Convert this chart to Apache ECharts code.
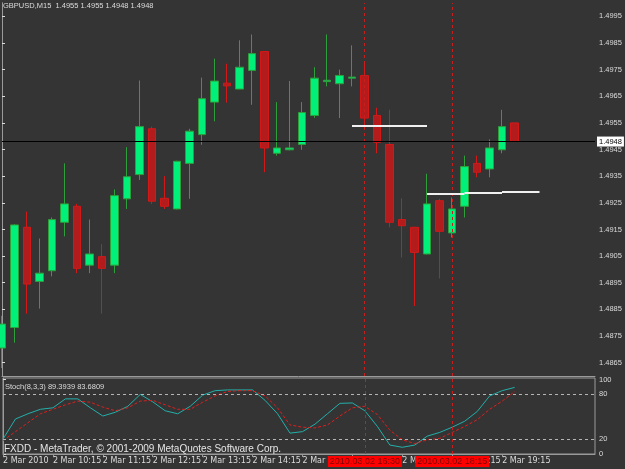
<!DOCTYPE html>
<html lang="en">
<head>
	<meta charset="UTF-8">
	<title>GBPUSD M15</title>
	<script src="https://cdn.jsdelivr.net/npm/echarts@6/dist/echarts.min.js"></script>
	<style>
		body { margin: 0; background: #343434; }
		#main { width: 625px; height: 469px; }
	</style>
</head>
<body>
	<div id="main"></div>
	<script type="text/javascript">
	// GBPUSD M15, 2 Mar 2010, bars from 09:15 to 19:30
	var opens  = [1.48705, 1.48782, 1.49158, 1.48955, 1.48995, 1.49177, 1.49237, 1.49016, 1.49048, 1.49016, 1.49265, 1.49356, 1.49528, 1.49267, 1.49227, 1.49398, 1.49506, 1.49628, 1.49699, 1.49677, 1.49747, 1.49818, 1.49436, 1.49449, 1.49469, 1.49578, 1.49705, 1.49697, 1.49718, 1.49728, 1.49578, 1.49469, 1.49187, 1.49158, 1.49058, 1.49258, 1.49137, 1.49237, 1.49398, 1.49377, 1.49449, 1.4955];
	var closes = [1.48795, 1.49167, 1.48945, 1.48986, 1.49187, 1.49246, 1.49004, 1.49058, 1.49004, 1.49277, 1.49348, 1.49536, 1.49256, 1.49237, 1.49406, 1.49519, 1.49641, 1.49707, 1.49689, 1.49759, 1.49810, 1.49456, 1.49456, 1.49456, 1.49589, 1.49718, 1.49710, 1.49728, 1.49722, 1.49568, 1.49477, 1.49177, 1.49164, 1.49064, 1.49246, 1.49143, 1.49227, 1.49386, 1.49365, 1.49456, 1.49536, 1.4948];
	var lows   = [1.48630, 1.48725, 1.48834, 1.48853, 1.48974, 1.49124, 1.48986, 1.48986, 1.48834, 1.48986, 1.49227, 1.49336, 1.49246, 1.49227, 1.49225, 1.49265, 1.49468, 1.49556, 1.49626, 1.49677, 1.49618, 1.49365, 1.49427, 1.49447, 1.49449, 1.49569, 1.49687, 1.49568, 1.49687, 1.49534, 1.49436, 1.49158, 1.49045, 1.48863, 1.49056, 1.48966, 1.49120, 1.49195, 1.49346, 1.49346, 1.49436, 1.4948];
	var highs  = [1.48826, 1.49170, 1.49217, 1.49116, 1.49195, 1.49398, 1.49246, 1.49187, 1.49095, 1.49300, 1.49459, 1.49709, 1.49536, 1.49350, 1.49408, 1.49528, 1.49720, 1.49791, 1.49772, 1.49860, 1.49882, 1.49820, 1.49628, 1.49707, 1.49628, 1.49759, 1.49882, 1.49750, 1.49841, 1.49772, 1.49607, 1.49599, 1.49267, 1.49160, 1.49359, 1.49265, 1.49270, 1.49427, 1.49427, 1.49488, 1.49599, 1.4955];

	// Stochastic(8,3,3)
	var stochMain   = [20, 47, 54, 60, 62, 74, 74, 62, 51, 56, 64, 80, 70, 58, 54, 64, 79, 85, 86, 86, 86, 72, 54, 28, 30, 40, 54, 68, 68.5, 58, 37, 12, 9, 12, 24, 29, 36, 44, 57, 78, 85, 89.3939];
	var stochSignal = [18, 30, 42, 54, 60, 66, 71, 69.5, 63, 58, 62, 71, 72, 66, 60, 60, 69.5, 78, 84, 85, 85, 78, 62, 39, 36, 35, 39, 51, 62, 64, 53, 32, 19, 14, 19, 21, 29, 37, 46, 60, 71, 83.6809];
	var stochLevels = [20, 80];

	// axis ticks
	var timeTicks  = [0, 4, 8, 12, 16, 20, 24, 28, 32, 36, 40];
	var timeLabels = ['2 Mar 2010', '2 Mar 10:15', '2 Mar 11:15', '2 Mar 12:15', '2 Mar 13:15', '2 Mar 14:15',
		'2 Mar 15:15', '2 Mar 16:15', '2 Mar 17:15', '2 Mar 18:15', '2 Mar 19:15'];
	var priceTicks = [1.4865, 1.4875, 1.4885, 1.4895, 1.4905, 1.4915, 1.4925, 1.4935, 1.4945, 1.4955, 1.4965, 1.4975, 1.4985, 1.4995];
	var stochTicks = [0, 20, 80, 100];

	// vertical markers (bar index + time) and horizontal objects
	var vLineBars  = [29, 36];
	var vLineTimes = ['2010.03.02 16:30', '2010.03.02 18:15'];
	// [fromBar, toBar, price]
	var hSegments = [[28, 34, 1.4954], [34, 37, 1.49285], [37, 40, 1.49288], [40, 43, 1.49291]];

	var last = opens.length - 1;
	var bid = closes[last];

	var candles = opens.map(function (o, i) {
		return [i, o, closes[i], lows[i], highs[i]];
	});
	var mainPts = stochMain.map(function (v, i) { return [i, v]; });
	var sigPts = stochSignal.map(function (v, i) { return [i, v]; });

	var txt = '#dcdcdc';
	var frame = '#9a9a9a';
	var xMax = 47.44;

	var chart = echarts.init(document.getElementById('main'));
	var option = {
		animation: false,
		backgroundColor: '#343434',
		textStyle: { fontFamily: 'Liberation Sans' },
		title: [
			{
				text: 'GBPUSD,M15  ' + opens[last].toFixed(4) + ' ' + highs[last].toFixed(4) + ' ' +
					lows[last].toFixed(4) + ' ' + closes[last].toFixed(4),
				left: 3, top: 2, padding: 0,
				textStyle: { color: txt, fontSize: 7.5, fontWeight: 'normal', fontFamily: 'Liberation Sans' }
			},
			{
				text: 'Stoch(8,3,3) ' + stochMain[last].toFixed(4) + ' ' + stochSignal[last].toFixed(4),
				left: 5, top: 383, padding: 0,
				textStyle: { color: txt, fontSize: 7.5, fontWeight: 'normal', fontFamily: 'Liberation Sans' }
			},
			{
				text: 'FXDD - MetaTrader, © 2001-2009 MetaQuotes Software Corp.',
				left: 4, top: 444, padding: 0,
				textStyle: { color: '#e6e6e6', fontSize: 10, fontWeight: 'normal', fontFamily: 'Liberation Sans' }
			}
		],
		grid: [
			{ left: 2, right: 30, top: 3, height: 373, show: false },
			{ left: 2, right: 30, top: 378, height: 76, show: true, borderColor: frame, borderWidth: 1 }
		],
		xAxis: [
			{
				type: 'value', gridIndex: 0, min: 0, max: xMax,
				axisLine: { show: true, onZero: false, lineStyle: { color: frame } },
				axisTick: { show: false }, axisLabel: { show: false }, splitLine: { show: false }
			},
			{
				type: 'value', gridIndex: 1, min: 0, max: xMax,
				axisLine: { show: true, onZero: false, lineStyle: { color: frame } },
				axisTick: { show: true, customValues: timeTicks, length: 3, lineStyle: { color: frame } },
				axisLabel: {
					customValues: timeTicks, color: txt, fontSize: 8, fontFamily: 'DejaVu Sans',
					align: 'left', margin: 3,
					formatter: function (v) {
						var k = timeTicks.indexOf(v);
						return k < 0 ? '' : timeLabels[k];
					}
				},
				splitLine: { show: false }
			}
		],
		yAxis: [
			{
				type: 'value', gridIndex: 0, position: 'right', min: 1.486, max: 1.5, scale: true,
				axisLine: { show: true, lineStyle: { color: frame } },
				axisTick: { show: true, customValues: priceTicks, length: 3, lineStyle: { color: txt } },
				axisLabel: {
					customValues: priceTicks, color: txt, fontSize: 7.5, margin: 4,
					formatter: function (v) { return v.toFixed(4); }
				},
				splitLine: { show: false }
			},
			{
				type: 'value', gridIndex: 0, position: 'left', min: 1.486, max: 1.5, scale: true,
				axisLine: { show: true, lineStyle: { color: frame } },
				axisTick: { show: false }, axisLabel: { show: false }, splitLine: { show: false }
			},
			{
				type: 'value', gridIndex: 1, position: 'right', min: 0, max: 102,
				axisLine: { show: true, lineStyle: { color: frame } },
				axisTick: { show: true, customValues: stochTicks, length: 3, lineStyle: { color: txt } },
				axisLabel: { customValues: stochTicks, color: txt, fontSize: 7.5, margin: 4 },
				splitLine: { show: false }
			}
		],
		series: [
			{
				type: 'candlestick',
				xAxisIndex: 0, yAxisIndex: 0,
				data: candles,
				barWidth: 8,
				itemStyle: {
					color: '#00f07a', borderColor: '#2f9f3c',
					color0: '#b31c1c', borderColor0: '#d41818',
					borderWidth: 1
				},
				markLine: {
					silent: true, symbol: 'none', animation: false,
					label: { show: false },
					data: vLineBars.map(function (b) {
						return { xAxis: b, lineStyle: { color: '#c81e1e', type: [3, 3], width: 1 } };
					})
				}
			},
			{
				// chart objects: bid line and horizontal segments
				type: 'line',
				xAxisIndex: 0, yAxisIndex: 0,
				data: [],
				markLine: {
					silent: true, symbol: 'none', animation: false, precision: 5,
					label: { show: false },
					lineStyle: { color: '#f0f0f0', width: 2, type: 'solid' },
					data: hSegments.map(function (s) {
						return [{ coord: [s[0], s[2]] }, { coord: [s[1], s[2]] }];
					}).concat([{
						yAxis: bid,
						lineStyle: { color: '#000', type: 'solid', width: 1 },
						label: {
							show: true, position: 'end', distance: 2,
							formatter: bid.toFixed(4),
							backgroundColor: '#fff', color: '#000', fontSize: 7.5, padding: [1, 2]
						}
					}])
				}
			},
			{
				type: 'line',
				xAxisIndex: 1, yAxisIndex: 2,
				data: mainPts,
				showSymbol: false,
				lineStyle: { color: '#22b0aa', width: 1 },
				markLine: {
					silent: true, symbol: 'none', animation: false,
					data: stochLevels.map(function (l) {
						return { yAxis: l, label: { show: false }, lineStyle: { color: '#b4b4b4', type: [3, 3], width: 1 } };
					}).concat(vLineBars.map(function (b, k) {
						return {
							xAxis: b,
							lineStyle: { color: '#c81e1e', type: [3, 3], width: 1 },
							label: {
								show: true, position: 'start', distance: 2,
								formatter: vLineTimes[k],
								backgroundColor: '#ff0000', color: '#7a0000',
								fontSize: 9, padding: [1, 2], fontFamily: 'Liberation Sans'
							}
						};
					}))
				}
			},
			{
				type: 'line',
				xAxisIndex: 1, yAxisIndex: 2,
				data: sigPts,
				showSymbol: false,
				lineStyle: { color: '#e01e1e', width: 1, type: [3, 2] }
			}
		]
	};
	chart.setOption(option);
	</script>
</body>
</html>
